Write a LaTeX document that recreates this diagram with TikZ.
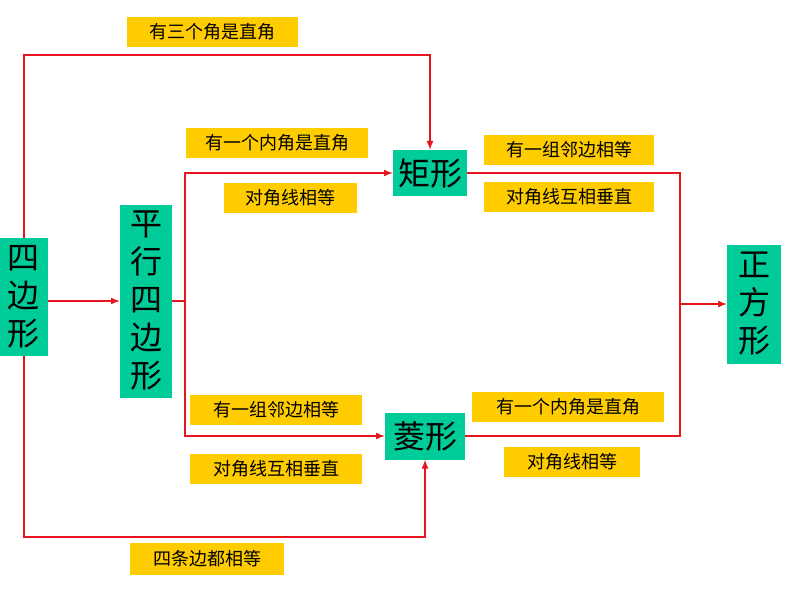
\documentclass[tikz,border=0pt]{standalone}
\usepackage{fontspec}
\newfontfamily\cjk{Noto Sans CJK SC}
\usetikzlibrary{positioning}
\definecolor{shapegreen}{HTML}{00CC99}
\definecolor{condyellow}{HTML}{FFCC00}
\definecolor{linkred}{HTML}{E8141E}
\tikzset{
  shapebox/.style={fill=shapegreen, inner sep=0pt, font=\cjk\fontsize{32}{38}\selectfont, align=center},
  condbox/.style={fill=condyellow, inner sep=0pt, font=\cjk\fontsize{18}{20}\selectfont},
  link/.style={draw=linkred, line width=2pt},
  linkarrow/.style={link, -latex}
}
\begin{document}
\begin{tikzpicture}[x=1pt, y=-1pt]
\useasboundingbox (0,0) rectangle (794,596);
% shapes
\node (quad) [shapebox, minimum width=48pt, minimum height=118pt] at (24,297) {四\\边\\形};
\node (para) [shapebox, minimum width=52pt, minimum height=193pt] at (146,301) {平\\行\\四\\边\\形};
\node (rect) [shapebox, minimum width=74pt, minimum height=46pt] at (430,173) {矩形};
\node (rhom) [shapebox, minimum width=80pt, minimum height=47pt] at (425,436) {菱形};
\node (squa) [shapebox, minimum width=54pt, minimum height=119pt] at (754,304) {正\\方\\形};
% conditions
\node (c1) [condbox, minimum width=171pt, minimum height=30pt] at (212,32) {有三个角是直角};
\node (c2) [condbox, minimum width=182pt, minimum height=30pt] at (277,143) {有一个内角是直角};
\node (c3) [condbox, minimum width=133pt, minimum height=30pt] at (290,198) {对角线相等};
\node (c4) [condbox, minimum width=170pt, minimum height=30pt] at (569,150) {有一组邻边相等};
\node (c5) [condbox, minimum width=170pt, minimum height=30pt] at (569,197) {对角线互相垂直};
\node (c6) [condbox, minimum width=172pt, minimum height=30pt] at (276,410) {有一组邻边相等};
\node (c7) [condbox, minimum width=172pt, minimum height=30pt] at (276,469) {对角线互相垂直};
\node (c8) [condbox, minimum width=192pt, minimum height=30pt] at (568,407) {有一个内角是直角};
\node (c9) [condbox, minimum width=136pt, minimum height=30pt] at (572,462) {对角线相等};
\node (c10) [condbox, minimum width=154pt, minimum height=32pt] at (207,559) {四条边都相等};
% connectors
\coordinate (fork) at (185,301);
\coordinate (join) at (680,304);
\draw [linkarrow] (quad.north) |- (430,55) -- (rect.north);
\draw [linkarrow] (quad.south) |- (425,537) -- (rhom.south);
\draw [linkarrow] (quad.east |- para) -- (para.west);
\draw [link] (para.east) -- (fork);
\draw [linkarrow] (fork) |- (rect.west);
\draw [linkarrow] (fork) |- (rhom.west);
\draw [link] (rect.east) -| (join) |- (rhom.east);
\draw [linkarrow] (join) -- (squa.west);
\end{tikzpicture}
\end{document}
